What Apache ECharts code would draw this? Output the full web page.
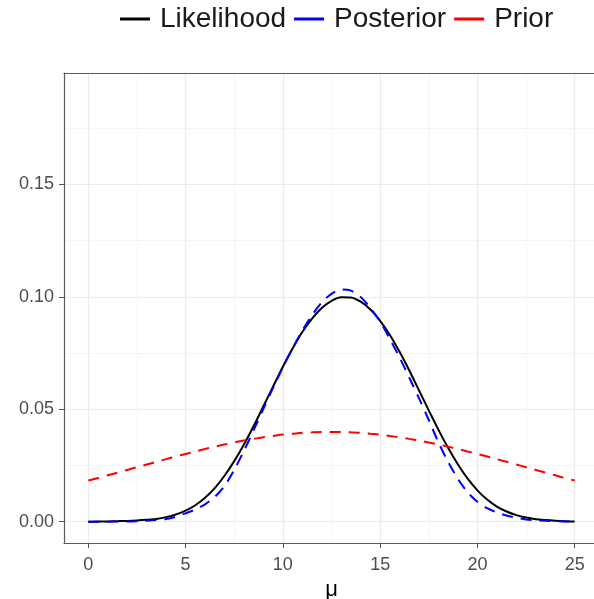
<!DOCTYPE html>
<html>
<head>
<meta charset="utf-8">
<script src="https://cdn.jsdelivr.net/npm/echarts@6/dist/echarts.min.js"></script>
<style>
  html, body { margin: 0; padding: 0; background: #fff; overflow: hidden; }
  #chart { width: 606px; height: 599px; }
</style>
</head>
<body>
<div id="chart"></div>
<script>
// Grid of mu values where the three densities are evaluated
const mu = [0, 0.5, 1, 1.5, 2, 2.5, 3, 3.5, 4, 4.5, 5, 5.5, 6, 6.5, 7, 7.5, 8, 8.5, 9, 9.5,
            10, 10.5, 11, 11.5, 12, 12.5, 13, 13.5, 14, 14.5, 15, 15.5, 16, 16.5, 17, 17.5,
            18, 18.5, 19, 19.5, 20, 20.5, 21, 21.5, 22, 22.5, 23, 23.5, 24, 24.5, 25];

const likelihood = [0.0000, 0.0001, 0.0001, 0.0002, 0.0003, 0.0005, 0.0008, 0.0012, 0.0020, 0.0032,
                    0.0049, 0.0073, 0.0106, 0.0149, 0.0204, 0.0269, 0.0343, 0.0425, 0.0513, 0.0601,
                    0.0689, 0.0770, 0.0843, 0.0903, 0.0950, 0.0982, 0.0998, 0.0997, 0.0978, 0.0943,
                    0.0893, 0.0830, 0.0755, 0.0672, 0.0583, 0.0495, 0.0408, 0.0327, 0.0254, 0.0191,
                    0.0139, 0.0098, 0.0067, 0.0045, 0.0029, 0.0018, 0.0011, 0.0007, 0.0004, 0.0002,
                    0.0001];

const posterior = [0.0000, 0.0000, 0.0000, 0.0001, 0.0001, 0.0002, 0.0004, 0.0007, 0.0012, 0.0022,
                   0.0037, 0.0054, 0.0077, 0.0110, 0.0158, 0.0230, 0.0315, 0.0407, 0.0502, 0.0596,
                   0.0686, 0.0771, 0.0850, 0.0918, 0.0975, 0.1013, 0.1032, 0.1027, 0.0999, 0.0950,
                   0.0890, 0.0812, 0.0730, 0.0640, 0.0548, 0.0452, 0.0352, 0.0265, 0.0190, 0.0130,
                   0.0088, 0.0060, 0.0041, 0.0027, 0.0017, 0.0010, 0.0006, 0.0004, 0.0002, 0.0001,
                   0.0001];

const prior = [0.0183, 0.0194, 0.0206, 0.0218, 0.0230, 0.0242, 0.0254, 0.0266, 0.0278, 0.0290,
               0.0301, 0.0312, 0.0323, 0.0333, 0.0343, 0.0352, 0.0361, 0.0368, 0.0375, 0.0381,
               0.0387, 0.0391, 0.0395, 0.0397, 0.0399, 0.0399, 0.0399, 0.0397, 0.0395, 0.0391,
               0.0387, 0.0381, 0.0375, 0.0368, 0.0361, 0.0352, 0.0343, 0.0333, 0.0323, 0.0312,
               0.0301, 0.0290, 0.0278, 0.0266, 0.0254, 0.0242, 0.0230, 0.0218, 0.0206, 0.0194,
               0.0183];

const xMajorTicks = [0, 5, 10, 15, 20, 25];
const xMinorTicks = [2.5, 7.5, 12.5, 17.5, 22.5];
const yMajorTicks = [0, 0.05, 0.10, 0.15];
const yMinorTicks = [0.025, 0.075, 0.125, 0.175];

const FONT = '"Liberation Sans", Arial, Helvetica, sans-serif';
const pairs = ys => mu.map((x, i) => [x, ys[i]]);

const xRange = { min: -1.25, max: 26.25 };
const yRange = { min: -0.0095, max: 0.1995 };

const frame = { show: true, onZero: false, lineStyle: { color: '#5a5a5a', width: 1.2 } };
const majorGrid = { show: true, lineStyle: { color: '#ebebeb', width: 1.2 } };
const minorGrid = { show: true, lineStyle: { color: '#f3f3f3', width: 0.8 } };
const tickStyle = { color: '#555', width: 1 };
const tickLabel = { fontFamily: FONT, fontSize: 18, color: '#4d4d4d' };

const chart = echarts.init(document.getElementById('chart'), null, { renderer: 'canvas' });

chart.setOption({
  animation: false,
  backgroundColor: '#fff',
  grid: {
    left: 64, top: 73, width: 535, height: 470,
    outerBoundsMode: 'none', containLabel: false,
    show: false
  },
  legend: {
    left: 115, top: 0,
    icon: 'rect', itemWidth: 30, itemHeight: 3, itemGap: 8,
    itemStyle: { borderWidth: 0 },
    textStyle: { fontFamily: FONT, fontSize: 28, color: '#1a1a1a', padding: [0, 0, 0, 5] },
    data: ['Likelihood', 'Posterior', 'Prior']
  },
  xAxis: [
    {
      type: 'value', ...xRange, position: 'bottom',
      name: 'μ', nameLocation: 'middle', nameGap: 36,
      nameTextStyle: { fontFamily: FONT, fontSize: 22, color: '#000' },
      axisLine: frame,
      axisTick: { show: true, length: 5, customValues: xMajorTicks, lineStyle: tickStyle },
      axisLabel: { customValues: xMajorTicks, margin: 13, ...tickLabel },
      splitLine: majorGrid
    },
    {
      type: 'value', ...xRange, position: 'top',
      axisLine: frame,
      axisTick: { show: false, customValues: xMinorTicks },
      axisLabel: { show: false },
      splitLine: minorGrid
    }
  ],
  yAxis: [
    {
      type: 'value', ...yRange, position: 'left',
      axisLine: frame,
      axisTick: { show: true, length: 5, customValues: yMajorTicks, lineStyle: tickStyle },
      axisLabel: { customValues: yMajorTicks, margin: 10, formatter: v => v.toFixed(2), ...tickLabel },
      splitLine: majorGrid
    },
    {
      type: 'value', ...yRange, position: 'right',
      axisLine: { show: false, onZero: false },
      axisTick: { show: false, customValues: yMinorTicks },
      axisLabel: { show: false },
      splitLine: minorGrid
    }
  ],
  series: [
    {
      name: 'Likelihood', type: 'line', xAxisIndex: 0, yAxisIndex: 0,
      data: pairs(likelihood), showSymbol: false, smooth: 0.3,
      itemStyle: { color: '#000' },
      lineStyle: { color: '#000', width: 2, type: 'solid' }
    },
    {
      name: 'Posterior', type: 'line', xAxisIndex: 0, yAxisIndex: 0,
      data: pairs(posterior), showSymbol: false, smooth: 0.3,
      itemStyle: { color: '#0000ff' },
      lineStyle: { color: '#0000ff', width: 2, type: [11, 8] }
    },
    {
      name: 'Prior', type: 'line', xAxisIndex: 0, yAxisIndex: 0,
      data: pairs(prior), showSymbol: false, smooth: 0.3,
      itemStyle: { color: '#ff0000' },
      lineStyle: { color: '#ff0000', width: 2, type: [11, 8] }
    }
  ]
});
</script>
</body>
</html>
